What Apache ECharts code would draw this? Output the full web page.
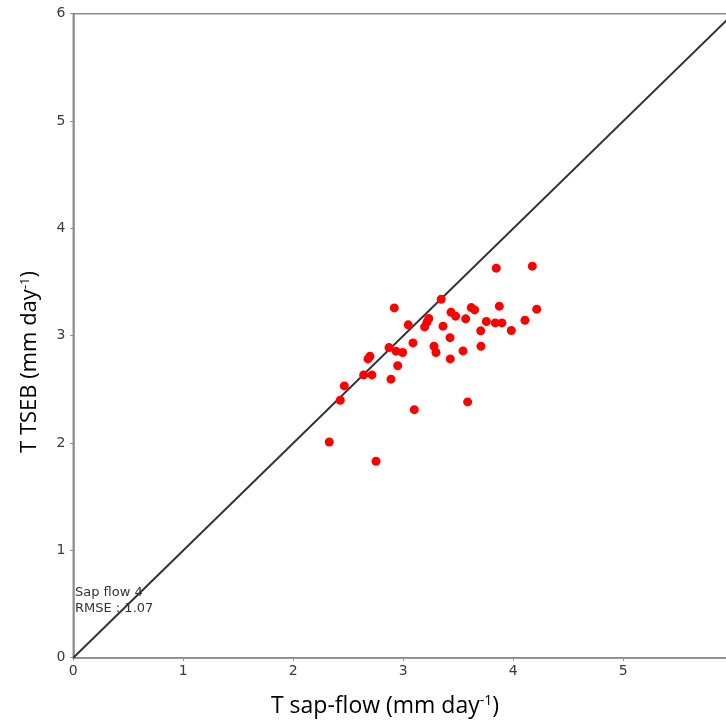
<!DOCTYPE html>
<html>
<head>
<meta charset="utf-8">
<script src="https://cdn.jsdelivr.net/npm/echarts@6/dist/echarts.min.js"></script>
<style>html,body{margin:0;padding:0;background:#fff;}#chart{width:726px;height:722px;}</style>
</head>
<body>
<div id="chart"></div>
<script>
// T sap-flow (x) values, mm/day
const sapFlow = [3.845, 4.173, 2.918, 3.345, 3.873, 4.213, 3.434, 3.476, 3.618, 3.649, 3.567,
  3.231, 3.215, 3.194, 3.045, 3.361, 3.755, 3.836, 3.897, 4.106, 3.982, 3.704, 3.425, 3.088,
  3.706, 3.279, 3.297, 3.543, 3.427, 2.870, 2.934, 2.994, 2.697, 2.679, 2.949, 2.640, 2.715,
  2.888, 2.464, 2.427, 3.100, 3.585, 2.327, 2.752];
// T TSEB (y) values, mm/day
const tseb = [3.629, 3.648, 3.259, 3.340, 3.275, 3.247, 3.219, 3.182, 3.262, 3.240, 3.157,
  3.160, 3.126, 3.082, 3.101, 3.089, 3.132, 3.119, 3.119, 3.144, 3.048, 3.045, 2.982, 2.933,
  2.902, 2.902, 2.843, 2.858, 2.784, 2.889, 2.856, 2.843, 2.809, 2.784, 2.721, 2.635, 2.635,
  2.595, 2.532, 2.399, 2.311, 2.383, 2.010, 1.830];
const oneToOne = [[0, 0], [6, 6]];
const axisMin = 0, axisMax = 6, axisStep = 1;
const annotation = ['Sap flow 4', 'RMSE : 1.07'];

const points = sapFlow.map((x, i) => [x, tseb[i]]);
const chart = echarts.init(document.getElementById('chart'), null, {renderer: 'canvas'});
const axisCommon = {
  type: 'value', min: axisMin, max: axisMax, interval: axisStep,
  splitLine: {show: false},
  axisLine: {show: true, onZero: false, lineStyle: {color: '#8a8a8a', width: 1.5}},
  axisTick: {show: true, length: 3, lineStyle: {color: '#8a8a8a'}},
  axisLabel: {color: '#3a3a3a', fontFamily: 'DejaVu Sans', fontSize: 14}
};
const titleRich = {
  a: {fontFamily: 'Open Sans', fontSize: 22, color: '#000', verticalAlign: 'bottom'},
  s: {fontFamily: 'Open Sans', fontSize: 13, color: '#000', verticalAlign: 'top'}
};
const xTitleRich = {
  a: {fontFamily: 'Open Sans', fontSize: 23, color: '#000', verticalAlign: 'bottom'},
  s: {fontFamily: 'Open Sans', fontSize: 14, color: '#000', verticalAlign: 'top'}
};
chart.setOption({
  animation: false,
  grid: {left: 73.3, top: 13.7, width: 660, height: 644, outerBoundsMode: 'none', containLabel: false,
    show: true, borderColor: '#8a8a8a', borderWidth: 1.5, backgroundColor: 'transparent'},
  xAxis: Object.assign({}, axisCommon, {axisLabel: Object.assign({}, axisCommon.axisLabel, {margin: 7})}),
  yAxis: Object.assign({}, axisCommon, {axisLabel: Object.assign({}, axisCommon.axisLabel, {margin: 8})}),
  series: [
    {type: 'line', data: oneToOne, showSymbol: false, symbol: 'none', lineStyle: {color: '#333', width: 2}, z: 2},
    {type: 'scatter', data: points, symbol: 'circle', symbolSize: 9, itemStyle: {color: '#ff0000', opacity: 1}, z: 3}
  ],
  graphic: [
    {type: 'text', left: 75, top: 585, style: {text: annotation.join('\n'), fontFamily: 'DejaVu Sans', fontSize: 13, lineHeight: 16, fill: '#333'}},
    {type: 'text', x: 385, y: 706, style: {
      text: '{a|T sap-flow (mm day}{s|-1}{a|)}', align: 'center', verticalAlign: 'middle', rich: xTitleRich}},
    {type: 'text', x: 30, y: 362, rotation: Math.PI / 2, style: {
      text: '{a|T TSEB (mm day}{s|-1}{a|)}', align: 'center', verticalAlign: 'middle', rich: titleRich}}
  ]
});
</script>
</body>
</html>
